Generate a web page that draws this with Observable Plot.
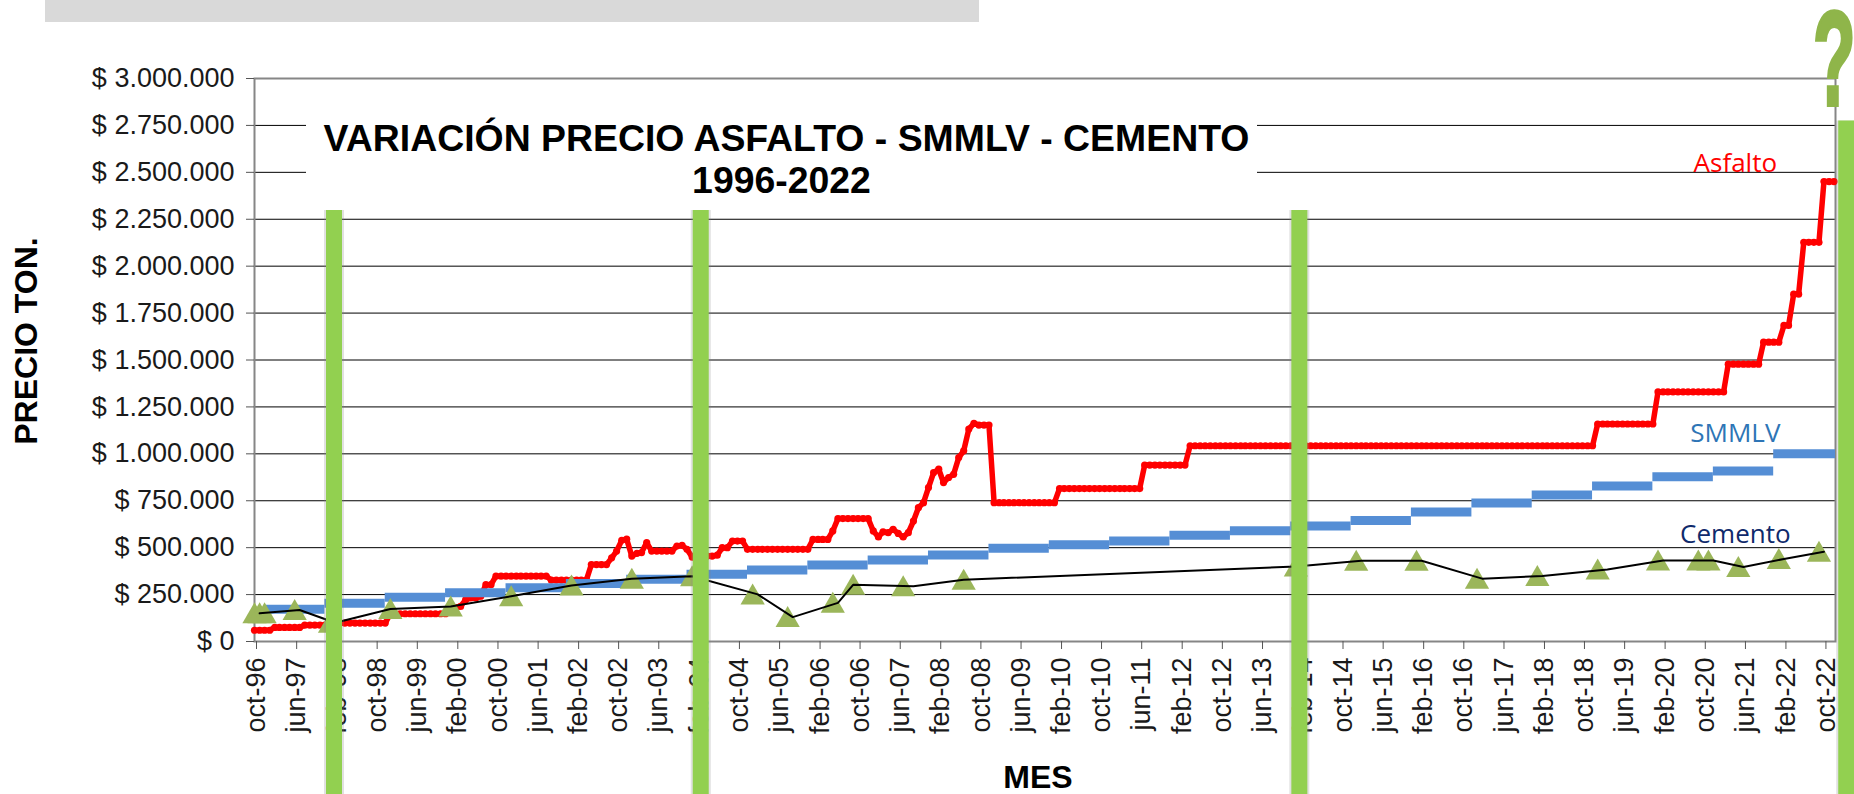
<!DOCTYPE html>
<html lang="es">
<head>
<meta charset="utf-8">
<script src="https://cdn.jsdelivr.net/npm/d3@7"></script>
<script src="https://cdn.jsdelivr.net/npm/@observablehq/plot@0.6"></script>
<style>
html,body{margin:0;padding:0;background:#fff;width:1854px;height:794px;overflow:hidden}
#wrap{position:relative;width:1854px;height:794px;overflow:hidden;font-family:"Liberation Sans",Arial,sans-serif}
#wrap svg{position:absolute;left:0;top:0}
#franja{position:absolute;left:45px;top:0;width:934px;height:22px;background:#d9d9d9}
#titulo{position:absolute;left:306px;top:117px;width:951px;height:93px;background:#fff;text-align:center;font-weight:bold;font-size:37.4px;line-height:42px;color:#000;text-indent:10px}
#titulo span{display:block;text-indent:0}
#pregunta{position:absolute;left:1813px;top:4px;font-weight:bold;font-size:134px;line-height:110px;color:#8fb54a;-webkit-text-stroke:4px #8fb54a;transform:scaleX(.52);transform-origin:left top}
</style>
</head>
<body>
<div id="wrap">
  <div id="chart"></div>
  <div id="franja"></div>
  <div id="titulo">VARIACIÓN PRECIO ASFALTO - SMMLV - CEMENTO<span>1996-2022</span></div>
  <div id="pregunta">?</div>
</div>
<script>
// Months are counted from oct-96 (0)
const etiquetasMes = ["oct-96","jun-97","feb-98","oct-98","jun-99","feb-00","oct-00","jun-01","feb-02","oct-02","jun-03","feb-04","oct-04","jun-05","feb-06","oct-06","jun-07","feb-08","oct-08","jun-09","feb-10","oct-10","jun-11","feb-12","oct-12","jun-13","feb-14","oct-14","jun-15","feb-16","oct-16","jun-17","feb-18","oct-18","jun-19","feb-20","oct-20","jun-21","feb-22","oct-22"];
const etiquetasMesIdx = [0,8,16,24,32,40,48,56,64,72,80,88,96,104,112,120,128,136,144,152,160,168,176,184,192,200,208,216,224,232,240,248,256,264,272,280,288,296,304,312];
const precios = [0,250000,500000,750000,1000000,1250000,1500000,1750000,2000000,2250000,2500000,2750000,3000000];

// Asfalto: month at which each price level starts, and price (thousands)
const asfaltoMes = [0,4,10,15,17,27,39,40,41,42,43,45,46,48,59,67,71,72,73,74,75,76,77,78,79,84,85,86,87,88,90,92,93,95,98,111,115,116,123,124,125,126,127,128,129,130,131,132,133,134,135,136,137,138,139,140,141,142,143,144,147,160,177,186,267,279,293,300,304,306,308,312];
const asfaltoValor = [60,75,87,95,98,148,175,180,187,223,232,241,303,348,327,410,446,482,539,545,455,470,474,527,482,509,512,491,450,440,455,460,500,535,491,544,589,655,589,557,584,580,598,576,557,580,642,713,740,820,900,918,847,874,891,980,1016,1132,1162,1153,740,815,940,1043,1159,1330,1478,1595,1684,1851,2127,2451];
const asfaltoFin = 314;

// SMMLV: month at which each yearly level starts, and value (thousands)
const smmlvMes = [2,14,26,38,50,62,74,86,98,110,122,134,146,158,170,182,194,206,218,230,242,254,266,278,290,302];
const smmlvValor = [172,204,236,260,286,309,332,358,381.5,408,433.7,461.5,496.9,515,535.6,566.7,589.5,616,644.35,689.45,737.7,781.2,828.1,877.8,908.5,1000];
const smmlvFin = 314;

// Cemento: triangles and line (thousands)
const cementoMes = [0,1,2,8,15,27,39,51,63,75,87,99,106,115,119,129,141,207,219,231,243,255,267,279,287,289,295,303,311];
const cementoValor = [150,150,150,168,100,173,187,241,298,334,348,251,130,206,302,295,329,400,430,430,335,349,384,432,432,432,397,440,478];
const cementoLineaMes = [1,9,16,27,39,51,63,75,87,100,107,116,119,131,141,207,220,232,244,256,269,280,290,296,304,312];
const cementoLineaValor = [150,168,100,173,187,241,298,334,348,251,130,206,302,295,329,400,430,430,335,349,384,432,432,397,440,478];

// Vertical green bands
const bandasMes = [15.8,88.7,207.7,316.4];
const bandasTope = [2297,2297,2297,2773];

const fecha = m => new Date(1996, 9 + Math.floor(m), 1 + Math.round((m - Math.floor(m)) * 30));
const asfalto = [];
asfaltoMes.forEach((m0, i) => {
  const m1 = i + 1 < asfaltoMes.length ? asfaltoMes[i + 1] : asfaltoFin + 1;
  for (let m = m0; m < m1; m++) asfalto.push({x: fecha(m), y: asfaltoValor[i] * 1000});
});
const smmlv = smmlvMes.map((m, i) => ({x1: fecha(m), x2: fecha(i + 1 < smmlvMes.length ? smmlvMes[i + 1] : smmlvFin + 0.3), y: smmlvValor[i] * 1000}));
const cemento = cementoMes.map((m, i) => ({x: fecha(m), y: cementoValor[i] * 1000}));
const cementoLinea = cementoLineaMes.map((m, i) => ({x: fecha(m), y: cementoLineaValor[i] * 1000}));
const bandas = bandasMes.map((m, i) => ({x: fecha(m), y1: -900000, y2: bandasTope[i] * 1000}));
const rotulos = [
  {t: "Asfalto", x: fecha(294.4), y: 2547000, c: "#ff0000"},
  {t: "SMMLV", x: fecha(294.4), y: 1108000, c: "#2e75b6"},
  {t: "Cemento", x: fecha(294.4), y: 570000, c: "#0f2a6b"}
];
const ticksX = etiquetasMesIdx.map(fecha);
const rotuloDe = new Map(ticksX.map((d, i) => [+d, etiquetasMes[i]]));
const pesos = v => "$ " + d3.format(",")(v).replace(/,/g, ".");

const plot = Plot.plot({
  width: 1854, height: 794,
  marginLeft: 254, marginRight: 19, marginTop: 78, marginBottom: 153,
  style: {fontFamily: "'Liberation Sans', Arial, sans-serif", fontSize: "27px", color: "#1a1a1a", background: "transparent"},
  x: {type: "utc", domain: [fecha(0), fecha(314.3)], label: null},
  y: {domain: [0, 3000000], label: null},
  marks: [
    Plot.gridY(precios, {stroke: "#000", strokeOpacity: 1, strokeWidth: 1}),
    Plot.frame({stroke: "#868686", strokeWidth: 2}),
    Plot.axisY(precios, {tickFormat: pesos, tickSize: 8, tickPadding: 12, stroke: "#555", label: null, fontSize: 27}),
    Plot.axisX(ticksX, {tickFormat: d => rotuloDe.get(+d), tickSize: 8, tickPadding: 8, tickRotate: -90, stroke: "#555", label: null, fontSize: 27, dx: 2}),
    Plot.line(asfalto, {x: "x", y: "y", stroke: "#ff0000", strokeWidth: 5.5}),
    Plot.dot(asfalto, {x: "x", y: "y", r: 3.6, fill: "#ff0000"}),
    Plot.ruleY(smmlv, {x1: "x1", x2: "x2", y: "y", stroke: "#558ed5", strokeWidth: 9}),
    Plot.dot(cemento, {x: "x", y: "y", symbol: "triangle", r: 9, dy: 3, fill: "#9bb65a"}),
    Plot.line(cementoLinea, {x: "x", y: "y", stroke: "#000", strokeWidth: 2}),
    Plot.text(rotulos, {x: "x", y: "y", text: "t", fill: "c", fontFamily: "'Open Sans', sans-serif", fontSize: 26}),
    Plot.ruleX(bandas, {x: "x", y1: "y1", y2: "y2", stroke: "#888", strokeOpacity: 0.25, strokeWidth: 20}),
    Plot.ruleX(bandas, {x: "x", y1: "y1", y2: "y2", stroke: "#92d050", strokeWidth: 16}),
    Plot.text(["PRECIO TON."], {frameAnchor: "left", textAnchor: "middle", dx: -228, dy: -19, rotate: -90, fontWeight: "bold", fontSize: 32, fill: "#000"}),
    Plot.text(["MES"], {frameAnchor: "bottom", dx: -7, dy: 146, fontWeight: "bold", fontSize: 32, fill: "#000"})
  ]
});
document.getElementById("chart").appendChild(plot);
</script>
</body>
</html>
